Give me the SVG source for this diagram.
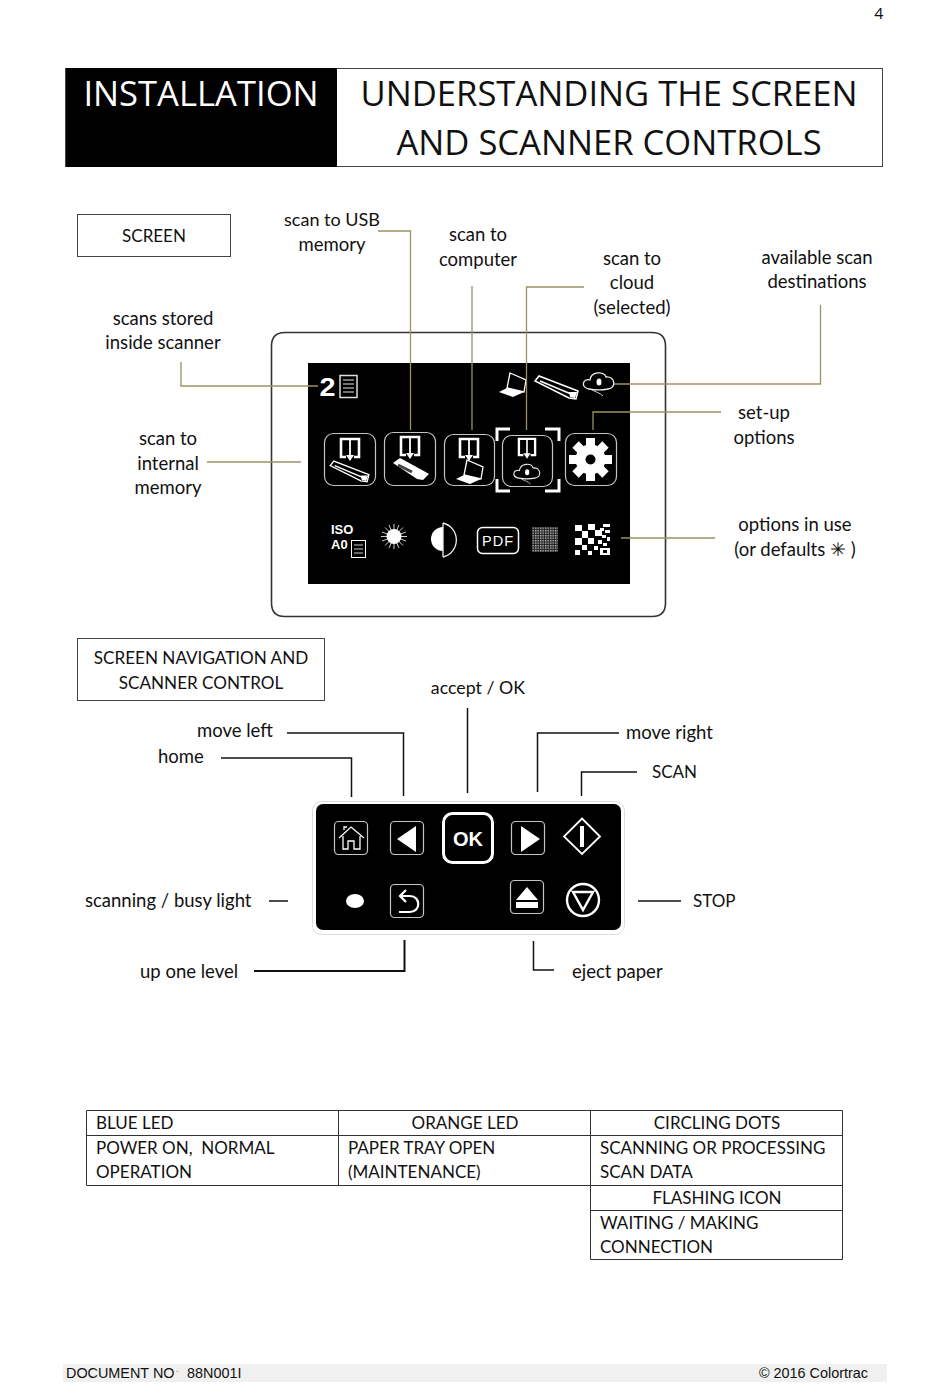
<svg xmlns="http://www.w3.org/2000/svg" width="950" height="1397" viewBox="0 0 950 1397">
<style>
text{font-family:Lato,"Liberation Sans",sans-serif;font-size:18.5px;fill:#111}
.m{text-anchor:middle}
text.c{font-size:17px}
text.h{font-family:"Open Sans","Liberation Sans",sans-serif;font-size:34.600px}
.ol{fill:none;stroke:#9a9264;stroke-width:1.3}
.kl{fill:none;stroke:#111;stroke-width:1.5}
.box{fill:#fff;stroke:#444;stroke-width:1}
.ic{fill:none;stroke:#c4c4c4;stroke-width:1.2}
.f{fill:#fff}
.t{fill:none;stroke:#333;stroke-width:1}
text.ft{font-family:"Liberation Sans",Arial,sans-serif;font-size:14.400px}
text.w{font-family:"Liberation Sans",sans-serif;font-weight:bold;fill:#fff}
</style>
<defs>
<g id="arrowbox"><path d="M-4 9H-9V-9H9V9H4" fill="none" stroke="#fff" stroke-width="2.600"/><path d="M0 -8V8" stroke="#fff" stroke-width="1.800"/><path d="M-4 7H4L0 13Z" fill="#fff"/></g>
<g id="scanner"><path d="M-22 -6L-18 -11L21 4L19 12L12 11Z" fill="none" stroke="#fff" stroke-width="1.500"/><path d="M-17 -6L14 7" stroke="#fff" stroke-width="1.500"/><path d="M12 5L20 5L18 11L13 10Z" fill="#fff"/></g>
<g id="laptop"><path d="M-3 -12L13 -5L11 7L-6 3Z" fill="none" stroke="#fff" stroke-width="1.300"/><path d="M-14 7L-6 3L11 7L0 12Z" class="f"/></g>
<g id="cloud"><path d="M-11 6C-20 4 -17 -5 -10 -3C-9 -12 4 -12 6 -6C15 -7 17 5 8 6C3 7 -6 7 -11 6Z" fill="none" stroke="#eee" stroke-width="1.300"/><ellipse cx="-1" cy="-1" rx="2.500" ry="3.500" class="f"/><path d="M-8 7C-4 9 0 10 3 13" fill="none" stroke="#ccc" stroke-width="1"/></g>
<pattern id="ht" width="2.500" height="2.500" patternUnits="userSpaceOnUse"><rect width="2.500" height="2.500" fill="#222"/><rect width="1.400" height="1.400" fill="#bbb"/></pattern>
</defs>
<rect width="950" height="1397" fill="#fff"/>
<text x="879" y="19" class="m" style="font-size:16px">4</text>

<g id="header">
<rect x="65.500" y="68.500" width="817" height="98" fill="#fff" stroke="#444"/>
<rect x="66" y="68" width="271" height="99" fill="#000"/>
<text class="h" x="201" y="106" text-anchor="middle" style="fill:#fff">INSTALLATION</text>
<text class="h m" x="609" y="106">UNDERSTANDING THE SCREEN</text>
<text class="h m" x="609" y="155">AND SCANNER CONTROLS</text>
</g>

<g id="screen-box"><rect class="box" x="77.500" y="214.500" width="153" height="42"/><text class="m c" x="154" y="242">SCREEN</text></g>
<g id="label-usb"><text class="m" x="332" y="226" style="font-size:18px">scan to USB</text><text class="m" x="332" y="251">memory</text></g>
<g id="label-computer"><text class="m" x="478" y="241">scan to</text><text class="m" x="478" y="266">computer</text></g>
<g id="label-cloud"><text class="m" x="632" y="265">scan to</text><text class="m" x="632" y="289">cloud</text><text class="m" x="632" y="314">(selected)</text></g>
<g id="label-destinations"><text class="m" x="817" y="264">available scan</text><text class="m" x="817" y="288">destinations</text></g>
<g id="label-stored"><text class="m" x="163" y="325">scans stored</text><text class="m" x="163" y="349">inside scanner</text></g>
<g id="label-internal"><text class="m" x="168" y="445">scan to</text><text class="m" x="168" y="470">internal</text><text class="m" x="168" y="494">memory</text></g>
<g id="label-setup"><text class="m" x="764" y="419">set-up</text><text class="m" x="764" y="444">options</text></g>
<g id="label-options"><text class="m" x="795" y="531">options in use</text><text class="m" x="795" y="556">(or defaults ✳ )</text></g>

<g id="screen">
<path d="M285 332.500H652Q665.500 332.500 665.500 346V603Q665.500 616.500 652 616.500H285Q271.500 616.500 271.500 603V346Q271.500 332.500 285 332.500Z" fill="#fff" stroke="#333" stroke-width="1.600"/>
<rect x="308" y="363" width="322" height="221" fill="#000"/>
<text class="w" transform="translate(327.500 396) scale(1.150 1)" text-anchor="middle" style="font-size:25px">2</text>
<rect x="340" y="375.500" width="17" height="22" fill="none" stroke="#ddd" stroke-width="1.500"/>
<path d="M343 380H354M343 384H354M343 388H354M343 392H354" stroke="#999" stroke-width="1.500"/>
<use href="#laptop" transform="translate(513 385)"/>
<use href="#scanner" transform="translate(557 387)"/>
<use href="#cloud" transform="translate(600 383)"/>
</g>

<g id="icon-internal"><rect class="ic" x="324.500" y="433.500" width="51" height="52" rx="9"/><use href="#arrowbox" transform="translate(350 448)"/><use href="#scanner" transform="translate(350 471) scale(.900)"/></g>
<g id="icon-usb"><rect class="ic" x="384.500" y="432.500" width="51" height="53" rx="9"/><use href="#arrowbox" transform="translate(410 446)"/><path d="M393 463L400 458L422 470L429 474L423 480L417 479Z" class="f"/><path d="M398 465L412 472" stroke="#444" stroke-width="3"/></g>
<g id="icon-computer"><rect class="ic" x="444.500" y="434.500" width="50" height="51" rx="9"/><use href="#arrowbox" transform="translate(469 448)"/><use href="#laptop" transform="translate(470 472)"/></g>
<g id="icon-cloud"><rect class="ic" x="502.500" y="435.500" width="50" height="51" rx="9"/><use href="#arrowbox" transform="translate(527 447) scale(.900)"/><use href="#cloud" transform="translate(528 473) scale(.850)"/><path d="M510 429H497V441M545 429H559V441M497 479V491H510M559 479V491H545" fill="none" stroke="#fff" stroke-width="3"/></g>
<g id="icon-setup"><rect class="ic" x="565.500" y="433.500" width="51" height="52" rx="9"/><circle cx="590.500" cy="459.500" r="15" fill="#fff"/><path d="M590.500 438V481M569 459.500H612M575.500 444.500L605.500 474.500M605.500 444.500L575.500 474.500" stroke="#fff" stroke-width="9"/><circle cx="590.500" cy="459.500" r="5" fill="#000"/></g>

<g id="options-row">
<text class="w" x="331" y="534" style="font-size:13px">ISO</text>
<text class="w" x="331" y="549" style="font-size:13px">A0</text>
<rect x="351.500" y="540.500" width="14" height="17" fill="none" stroke="#fff"/>
<path d="M354 545H363M354 549H363M354 553H363" stroke="#ccc"/>
<circle cx="394" cy="536.500" r="7.500" fill="#fff"/>
<path d="M394 524V549M381 536.500H407M385 527.500L403 545.500M403 527.500L385 545.500M389 525L399 548M399 525L389 548M382 532L406 541M382 541L406 532" stroke="#fff" stroke-width=".8"/>
<path d="M443 527A12 12 0 0 0 443 551Z" fill="#fff"/>
<path d="M443 523V557M443 523A17.500 17.500 0 0 1 443 557" fill="none" stroke="#eee" stroke-width="1.300"/>
<rect x="477.500" y="527.500" width="41" height="26" rx="5" fill="none" stroke="#fff" stroke-width="1.500"/>
<text x="498" y="546" class="m" style="font-family:'Liberation Sans',sans-serif;font-size:14.500px;letter-spacing:1px;fill:#fff">PDF</text>
<rect x="532" y="527" width="26" height="25" fill="url(#ht)"/>
<path d="M575 525h7v6h-7zM588 524h7v6h-7zM582 531h6v7h-6zM595 530h7v6h-7zM575 538h7v7h-7zM588 538h6v6h-6zM582 545h5v5h-5zM575 550h5v5h-5zM603 524h7v3h-7zM600 528h4v3h-4zM605 530h5v3h-5zM602 535h4v3h-4zM607 537h3v4h-3zM598 540h4v4h-4zM603 543h4v3h-4zM594 546h4v4h-4zM588 551h4v4h-4z" fill="#fff"/>
<rect x="600" y="548" width="10" height="7" fill="#fff"/><rect x="603" y="550" width="4" height="3" fill="#000"/>
</g>

<g id="nav-box"><rect class="box" x="77.500" y="638.500" width="247" height="62"/><text class="m" x="201" y="664" style="font-size:17.100px">SCREEN NAVIGATION AND</text><text class="m" x="201" y="689" style="font-size:17.100px">SCANNER CONTROL</text></g>
<g id="label-ok"><text class="m" x="478" y="694" style="font-size:17.800px">accept / OK</text></g>
<g id="label-left"><text x="197" y="737">move left</text></g>
<g id="label-home"><text x="158" y="763">home</text></g>
<g id="label-right"><text x="626" y="739">move right</text></g>
<g id="label-scan"><text class="c" x="652" y="778">SCAN</text></g>
<g id="label-busy"><text x="85" y="907">scanning / busy light</text></g>
<g id="label-stop"><text class="c" x="693" y="907">STOP</text></g>
<g id="label-up"><text x="140" y="978">up one level</text></g>
<g id="label-eject"><text x="572" y="978">eject paper</text></g>

<g id="panel">
<rect x="312.500" y="801.500" width="312" height="133" rx="9" fill="#fff" stroke="#ddd"/>
<rect x="316" y="804" width="305" height="126" rx="7" fill="#000"/>
</g>
<g id="btn-home"><rect class="ic" x="334.500" y="821.500" width="33" height="33" rx="4"/><path d="M344 830V827H347M339 838L351 827L364 838M343 836V849H348V841H354V849H360V836" fill="none" stroke="#fff" stroke-width="1.300"/></g>
<g id="btn-left"><rect class="ic" x="390.500" y="821.500" width="33" height="33" rx="4"/><path d="M397 839L416 826V852Z" fill="#fff"/></g>
<g id="btn-ok"><rect x="443.500" y="813.500" width="49" height="49" rx="9" fill="none" stroke="#fff" stroke-width="3"/><text class="w m" x="468" y="846" style="font-size:20px">OK</text></g>
<g id="btn-right"><rect class="ic" x="511.500" y="821.500" width="33" height="33" rx="4"/><path d="M540 839L521 826V852Z" fill="#fff"/></g>
<g id="btn-start"><path d="M582 818.500L600 836.500L582 854L564 836.500Z" fill="none" stroke="#fff" stroke-width="1.800"/><rect x="580" y="826" width="4" height="21" fill="#fff"/></g>
<g id="busy-light"><ellipse cx="355" cy="901" rx="9" ry="7" fill="#fff"/></g>
<g id="btn-back"><rect class="ic" x="390.500" y="884.500" width="33" height="33" rx="4"/><path d="M400 896H410C421 896 421 912 410 912H399M406 890L400 896L406 902" fill="none" stroke="#fff" stroke-width="2.200"/></g>
<g id="btn-eject"><rect class="ic" x="510.500" y="880.500" width="33" height="33" rx="4"/><path d="M527 887L538 900H516Z" fill="#fff"/><rect x="516" y="902" width="22" height="6" fill="#fff"/></g>
<g id="btn-stop"><circle cx="583" cy="900" r="16" fill="none" stroke="#fff" stroke-width="2.400"/><path d="M573 892H593L583 910Z" fill="none" stroke="#fff" stroke-width="2.400"/></g>

<g id="connectors">
<path class="ol" d="M378 231H410.500V430"/>
<path class="ol" d="M472 286V430"/>
<path class="ol" d="M584 287H526.500V430"/>
<path class="ol" d="M820.500 305V384H614"/>
<path class="ol" d="M721 412H593V430"/>
<path class="ol" d="M181 362V386H318"/>
<path class="ol" d="M207 462H301"/>
<path class="ol" d="M621 538H715"/>
<path class="kl" d="M287 733H403.500V796"/>
<path class="kl" d="M221 758H351.500V797"/>
<path class="kl" d="M467.500 708V793"/>
<path class="kl" d="M619 733H537.500V792"/>
<path class="kl" d="M637 772H581.500V796"/>
<path class="kl" d="M269 901H288"/>
<path class="kl" d="M638 901H681"/>
<path class="kl" d="M254 971H404.500V940" style="stroke-width:2"/>
<path class="kl" d="M533.500 941V970H554"/>
</g>

<g id="table">
<path class="t" d="M86.500 1110.500H842.500V1259.500H590.500V1110.500M86.500 1110.500V1185.500H590.500M338.500 1110.500V1185.500M86.500 1135.500H842.500M590.500 1185.500H842.500M590.500 1210.500H842.500"/>
<text class="c" x="96" y="1129">BLUE LED</text>
<text class="m c" x="465" y="1129">ORANGE LED</text>
<text class="m c" x="717" y="1129">CIRCLING DOTS</text>
<text class="c" x="96" y="1154" xml:space="preserve">POWER ON,  NORMAL</text>
<text class="c" x="96" y="1178">OPERATION</text>
<text class="c" x="348" y="1154">PAPER TRAY OPEN</text>
<text class="c" x="348" y="1178">(MAINTENANCE)</text>
<text class="c" x="600" y="1154">SCANNING OR PROCESSING</text>
<text class="c" x="600" y="1178">SCAN DATA</text>
<text class="m c" x="717" y="1204">FLASHING ICON</text>
<text class="c" x="600" y="1229">WAITING / MAKING</text>
<text class="c" x="600" y="1253">CONNECTION</text>
</g>

<g id="footer">
<rect x="63" y="1364" width="824" height="18" fill="#f0f0f0"/>
<text class="ft" x="66" y="1378">DOCUMENT NO</text><text class="ft" x="176" y="1372" style="font-size:8px">.</text><text class="ft" x="187" y="1378">88N001I</text>
<text class="ft" x="868" y="1378" text-anchor="end">© 2016 Colortrac</text>
</g>
</svg>
